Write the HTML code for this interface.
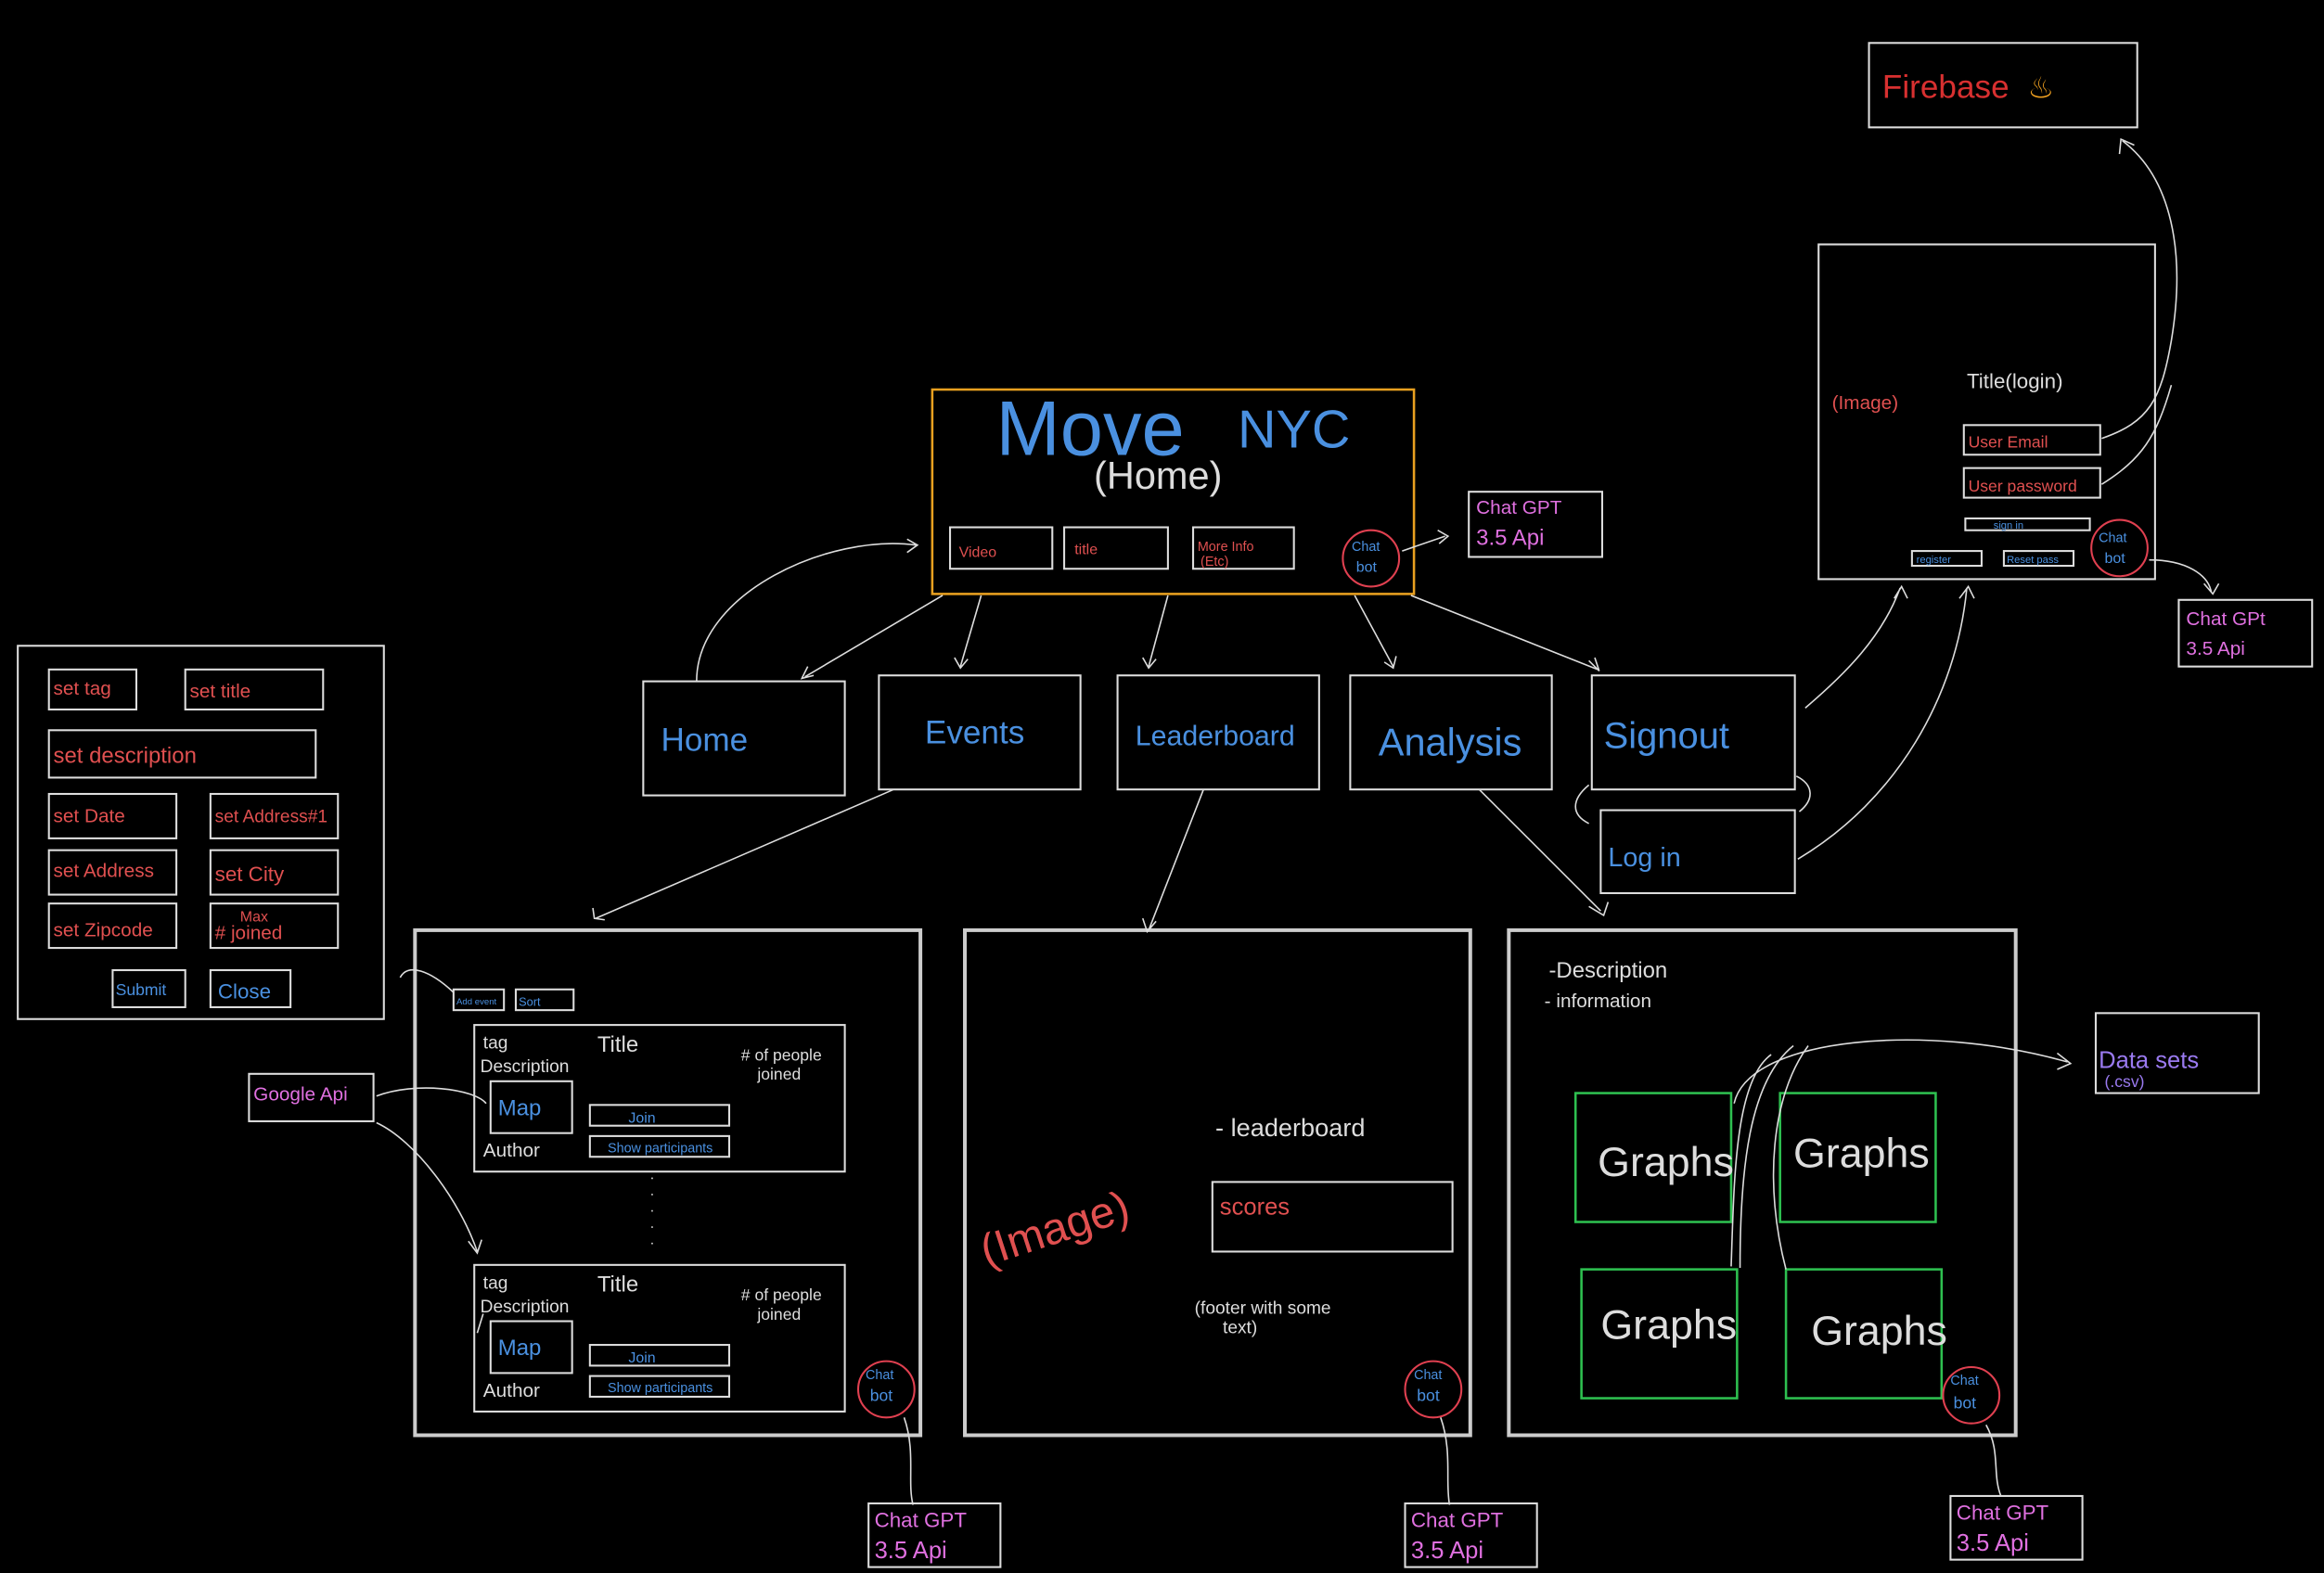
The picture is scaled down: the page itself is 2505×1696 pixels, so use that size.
<!DOCTYPE html>
<html><head><meta charset="utf-8"><style>
html,body{margin:0;padding:0;background:#000;width:2505px;height:1696px;overflow:hidden}
svg{display:block}
text{font-family:"Liberation Sans",sans-serif}
</style></head><body>
<svg width="2505" height="1696" viewBox="0 0 1568 1062" preserveAspectRatio="none">
<rect width="1568" height="1062" fill="#000"/>
<g fill="none" stroke-width="1.3">
<!-- firebase -->
<rect x="1261" y="29" width="181" height="57" stroke="#ddd"/>
<!-- login page -->
<rect x="1227" y="165" width="227" height="226" stroke="#ddd"/>
<rect x="1325" y="287" width="92" height="20" stroke="#ddd"/>
<rect x="1325" y="316" width="92" height="20" stroke="#ddd"/>
<rect x="1326" y="350" width="84" height="8" stroke="#ddd"/>
<rect x="1290" y="372" width="47" height="10" stroke="#ddd"/>
<rect x="1352" y="372" width="47" height="10" stroke="#ddd"/>
<circle cx="1430" cy="370" r="19" stroke="#e04050"/>
<rect x="1470" y="405" width="90" height="45" stroke="#ddd"/>
<!-- home -->
<rect x="629" y="263" width="325" height="138" stroke="#e8a020" stroke-width="1.6"/>
<rect x="641" y="356" width="69" height="28" stroke="#ddd"/>
<rect x="718" y="356" width="70" height="28" stroke="#ddd"/>
<rect x="805" y="356" width="68" height="28" stroke="#ddd"/>
<circle cx="925" cy="377" r="19" stroke="#e04050"/>
<rect x="991" y="332" width="90" height="44" stroke="#ddd"/>
<!-- nav -->
<rect x="434" y="460" width="136" height="77" stroke="#ddd"/>
<rect x="593" y="456" width="136" height="77" stroke="#ddd"/>
<rect x="754" y="456" width="136" height="77" stroke="#ddd"/>
<rect x="911" y="456" width="136" height="77" stroke="#ddd"/>
<rect x="1074" y="456" width="137" height="77" stroke="#ddd"/>
<rect x="1080" y="547" width="131" height="56" stroke="#ddd"/>
<!-- left form -->
<rect x="12" y="436" width="247" height="252" stroke="#ddd"/>
<rect x="33" y="452" width="59" height="27" stroke="#ddd"/>
<rect x="125" y="452" width="93" height="27" stroke="#ddd"/>
<rect x="33" y="493" width="180" height="32" stroke="#ddd"/>
<rect x="33" y="536" width="86" height="30" stroke="#ddd"/>
<rect x="142" y="536" width="86" height="30" stroke="#ddd"/>
<rect x="33" y="574" width="86" height="30" stroke="#ddd"/>
<rect x="142" y="574" width="86" height="30" stroke="#ddd"/>
<rect x="33" y="610" width="86" height="30" stroke="#ddd"/>
<rect x="142" y="610" width="86" height="30" stroke="#ddd"/>
<rect x="76" y="655" width="49" height="25" stroke="#ddd"/>
<rect x="142" y="655" width="54" height="25" stroke="#ddd"/>
<!-- events page -->
<rect x="280" y="628" width="341" height="341" stroke="#ccc" stroke-width="2.5"/>
<rect x="306" y="668" width="34" height="14" stroke="#ddd"/>
<rect x="348" y="668" width="39" height="14" stroke="#ddd"/>
<rect x="320" y="692" width="250" height="99" stroke="#ddd"/>
<rect x="331" y="730" width="55" height="35" stroke="#ddd"/>
<rect x="398" y="746" width="94" height="14" stroke="#ddd"/>
<rect x="398" y="767" width="94" height="14" stroke="#ddd"/>
<rect x="320" y="854" width="250" height="99" stroke="#ddd"/>
<rect x="331" y="892" width="55" height="35" stroke="#ddd"/>
<rect x="398" y="908" width="94" height="14" stroke="#ddd"/>
<rect x="398" y="929" width="94" height="14" stroke="#ddd"/>
<circle cx="598" cy="938" r="19" stroke="#e04050"/>
<rect x="168" y="725" width="84" height="32" stroke="#ddd"/>
<rect x="586" y="1015" width="89" height="43" stroke="#ddd"/>
<!-- leaderboard page -->
<rect x="651" y="628" width="341" height="341" stroke="#ccc" stroke-width="2.5"/>
<rect x="818" y="798" width="162" height="47" stroke="#ddd"/>
<circle cx="967" cy="938" r="19" stroke="#e04050"/>
<rect x="948" y="1015" width="89" height="43" stroke="#ddd"/>
<!-- analysis page -->
<rect x="1018" y="628" width="342" height="341" stroke="#ccc" stroke-width="2.5"/>
<rect x="1063" y="738" width="105" height="87" stroke="#2ec050" stroke-width="1.6"/>
<rect x="1201" y="738" width="105" height="87" stroke="#2ec050" stroke-width="1.6"/>
<rect x="1067" y="857" width="105" height="87" stroke="#2ec050" stroke-width="1.6"/>
<rect x="1205" y="857" width="105" height="87" stroke="#2ec050" stroke-width="1.6"/>
<circle cx="1330" cy="942" r="19" stroke="#e04050"/>
<rect x="1414" y="684" width="110" height="54" stroke="#ddd"/>
<rect x="1316" y="1010" width="89" height="43" stroke="#ddd"/>
</g>
<!-- connectors -->
<g fill="none" stroke="#ddd" stroke-width="1">
<path d="M636 402 L543 457 M545 450 L541 458 L549 456"/>
<path d="M662 402 L648 450 M644 444 L648 451 L653 445"/>
<path d="M788 402 L775 450 M771 444 L775 451 L780 445"/>
<path d="M914 402 L940 450 M934 447 L940 451 L942 443"/>
<path d="M952 402 L1078 452 M1072 446 L1079 453 L1076 444"/>
<path d="M470 460 C470 400 560 360 618 368 M612 364 L619 368 L612 373"/>
<path d="M946 372 L975 362 M970 358 L977 362 L971 367"/>
<path d="M603 533 L402 620 M400 613 L401 620 L408 621"/>
<path d="M812 533 L775 628 M771 620 L774 629 L780 622"/>
<path d="M998 533 L1080 615 M1072 612 L1082 618 L1085 609"/>
<path d="M1218 478 C1245 455 1270 430 1282 397 M1278 404 L1283 396 L1287 404"/>
<path d="M1213 580 C1280 540 1320 470 1327 397 M1322 404 L1328 396 L1332 404"/>
<path d="M1418 296 C1450 285 1458 270 1465 230 C1475 170 1465 120 1432 95 M1430 104 L1431 94 L1440 98"/>
<path d="M1418 327 C1445 310 1455 295 1465 260"/>
<path d="M1450 378 C1475 378 1490 388 1492 400 M1487 394 L1493 401 L1497 394"/>
<path d="M1072 530 C1060 540 1060 550 1072 556 M1212 524 C1224 530 1224 540 1214 548"/>
<path d="M306 670 C290 655 275 650 270 660"/>
<path d="M254 740 C280 730 320 735 328 745"/>
<path d="M254 758 C280 770 310 810 322 845 M316 838 L322 846 L325 837"/>
<path d="M326 887 L322 900"/>
<path d="M440 795 L440 850" stroke-dasharray="1 10"/>
<path d="M610 957 C618 980 612 1000 616 1016"/>
<path d="M972 957 C980 980 975 1000 978 1016"/>
<path d="M1340 962 C1350 980 1344 995 1350 1010"/>
<path d="M1170 745 C1180 700 1300 690 1395 717 M1388 711 L1397 718 L1388 722"/>
<path d="M1168 855 C1170 800 1170 730 1195 712 M1174 856 C1174 790 1180 730 1210 706 M1205 857 C1190 800 1195 740 1220 706"/>
</g>
<!-- text -->
<g font-size="12">
<text x="1270" y="66" fill="#d83030" font-size="22">Firebase</text>
<text x="1368" y="66" fill="#f0a020" font-size="20">♨</text>
<text x="1236" y="276" fill="#e05050" font-size="13">(Image)</text>
<text x="1327" y="262" fill="#ddd" font-size="14">Title(login)</text>
<text x="1328" y="302" fill="#e05050" font-size="11">User Email</text>
<text x="1328" y="332" fill="#e05050" font-size="11">User password</text>
<text x="1345" y="357" fill="#4a90e0" font-size="7">sign in</text>
<text x="1293" y="380" fill="#4a90e0" font-size="7">register</text>
<text x="1354" y="380" fill="#4a90e0" font-size="7">Reset pass</text>
<text x="1416" y="366" fill="#4a90e0" font-size="9">Chat</text>
<text x="1420" y="380" fill="#4a90e0" font-size="10">bot</text>
<text x="1475" y="422" fill="#e070e0" font-size="13">Chat GPt</text>
<text x="1475" y="442" fill="#e070e0" font-size="13">3.5 Api</text>
<text x="672" y="307" fill="#4a90e0" font-size="52">Move</text>
<text x="835" y="302" fill="#4a90e0" font-size="36">NYC</text>
<text x="738" y="330" fill="#ddd" font-size="26">(Home)</text>
<text x="647" y="376" fill="#e05050" font-size="10">Video</text>
<text x="725" y="374" fill="#e05050" font-size="10">title</text>
<text x="808" y="372" fill="#e05050" font-size="9">More Info</text>
<text x="810" y="382" fill="#e05050" font-size="9">(Etc)</text>
<text x="912" y="372" fill="#4a90e0" font-size="9">Chat</text>
<text x="915" y="386" fill="#4a90e0" font-size="10">bot</text>
<text x="996" y="347" fill="#e070e0" font-size="13">Chat GPT</text>
<text x="996" y="368" fill="#e070e0" font-size="15">3.5 Api</text>
<text x="446" y="507" fill="#4a90e0" font-size="22">Home</text>
<text x="624" y="502" fill="#4a90e0" font-size="22">Events</text>
<text x="766" y="503" fill="#4a90e0" font-size="19">Leaderboard</text>
<text x="930" y="510" fill="#4a90e0" font-size="26">Analysis</text>
<text x="1082" y="505" fill="#4a90e0" font-size="25">Signout</text>
<text x="1085" y="585" fill="#4a90e0" font-size="18">Log in</text>
<text x="36" y="469" fill="#e05050" font-size="13">set tag</text>
<text x="128" y="471" fill="#e05050" font-size="13">set title</text>
<text x="36" y="515" fill="#e05050" font-size="15">set description</text>
<text x="36" y="555" fill="#e05050" font-size="13">set Date</text>
<text x="145" y="555" fill="#e05050" font-size="12">set Address#1</text>
<text x="36" y="592" fill="#e05050" font-size="13">set Address</text>
<text x="145" y="595" fill="#e05050" font-size="14">set City</text>
<text x="36" y="632" fill="#e05050" font-size="13">set Zipcode</text>
<text x="162" y="622" fill="#e05050" font-size="10">Max</text>
<text x="145" y="634" fill="#e05050" font-size="13"># joined</text>
<text x="78" y="672" fill="#4a90e0" font-size="11">Submit</text>
<text x="147" y="674" fill="#4a90e0" font-size="14">Close</text>
<text x="308" y="678" fill="#4a90e0" font-size="6">Add event</text>
<text x="350" y="679" fill="#4a90e0" font-size="8">Sort</text>
<g fill="#ddd">
<text x="326" y="708" font-size="12">tag</text>
<text x="324" y="724" font-size="12">Description</text>
<text x="403" y="710" font-size="15">Title</text>
<text x="500" y="716" font-size="11"># of people</text>
<text x="511" y="729" font-size="11">joined</text>
<text x="326" y="781" font-size="13">Author</text>
<text x="326" y="870" font-size="12">tag</text>
<text x="324" y="886" font-size="12">Description</text>
<text x="403" y="872" font-size="15">Title</text>
<text x="500" y="878" font-size="11"># of people</text>
<text x="511" y="891" font-size="11">joined</text>
<text x="326" y="943" font-size="13">Author</text>
</g>
<text x="336" y="753" fill="#4a90e0" font-size="15">Map</text>
<text x="424" y="758" fill="#4a90e0" font-size="10">Join</text>
<text x="410" y="778" fill="#4a90e0" font-size="9">Show participants</text>
<text x="336" y="915" fill="#4a90e0" font-size="15">Map</text>
<text x="424" y="920" fill="#4a90e0" font-size="10">Join</text>
<text x="410" y="940" fill="#4a90e0" font-size="9">Show participants</text>
<text x="584" y="931" fill="#4a90e0" font-size="9">Chat</text>
<text x="587" y="946" fill="#4a90e0" font-size="11">bot</text>
<text x="171" y="743" fill="#e070e0" font-size="13">Google Api</text>
<text x="590" y="1031" fill="#e070e0" font-size="14">Chat GPT</text>
<text x="590" y="1052" fill="#e070e0" font-size="16">3.5 Api</text>
<text x="660" y="840" fill="#e05050" font-size="30" transform="rotate(-18 710 830)">(Image)</text>
<text x="820" y="767" fill="#ddd" font-size="17">- leaderboard</text>
<text x="823" y="820" fill="#e05050" font-size="16">scores</text>
<text x="806" y="887" fill="#ddd" font-size="12">(footer with some</text>
<text x="825" y="900" fill="#ddd" font-size="12">text)</text>
<text x="954" y="931" fill="#4a90e0" font-size="9">Chat</text>
<text x="956" y="946" fill="#4a90e0" font-size="11">bot</text>
<text x="952" y="1031" fill="#e070e0" font-size="14">Chat GPT</text>
<text x="952" y="1052" fill="#e070e0" font-size="16">3.5 Api</text>
<text x="1045" y="660" fill="#ddd" font-size="15">-Description</text>
<text x="1042" y="680" fill="#ddd" font-size="13">- information</text>
<g fill="#ddd">
<text x="1078" y="794" font-size="28">Graphs</text>
<text x="1210" y="788" font-size="28">Graphs</text>
<text x="1080" y="904" font-size="28">Graphs</text>
<text x="1222" y="908" font-size="28">Graphs</text>
</g>
<text x="1316" y="935" fill="#4a90e0" font-size="9">Chat</text>
<text x="1318" y="951" fill="#4a90e0" font-size="11">bot</text>
<text x="1416" y="721" fill="#9a7af0" font-size="16">Data  sets</text>
<text x="1420" y="734" fill="#9a7af0" font-size="11">(.csv)</text>
<text x="1320" y="1026" fill="#e070e0" font-size="14">Chat GPT</text>
<text x="1320" y="1047" fill="#e070e0" font-size="16">3.5 Api</text>
</g>
</svg>
</body></html>
